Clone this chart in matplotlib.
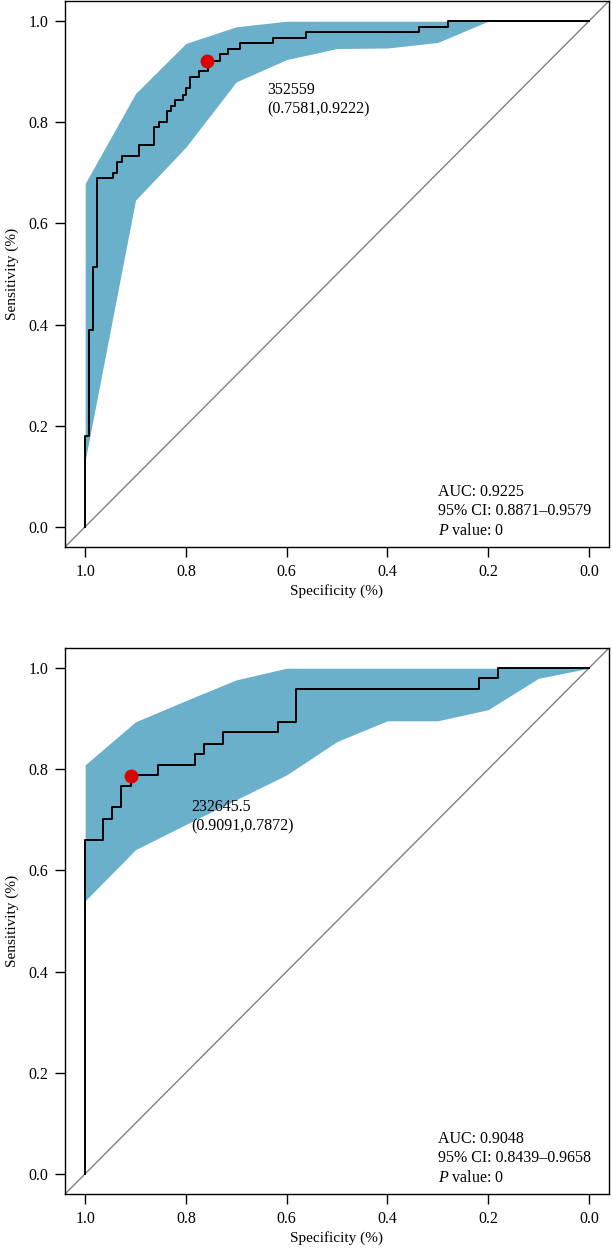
import matplotlib
matplotlib.use('Agg')
import matplotlib.pyplot as plt

plt.rcParams['font.family'] = ['Liberation Serif', 'DejaVu Serif']
plt.rcParams['mathtext.fontset'] = 'custom'
plt.rcParams['mathtext.it'] = 'Liberation Serif:italic'
plt.rcParams['mathtext.rm'] = 'Liberation Serif'

# panel 1 roc curve (specificity, sensitivity)
roc1_spec = [1.0, 1.0, 0.9915, 0.9835, 0.977, 0.944, 0.936, 0.927, 0.894, 0.863, 0.853, 0.838, 0.830,
             0.822, 0.805, 0.799, 0.791, 0.774, 0.757, 0.733, 0.717, 0.693, 0.628, 0.562, 0.337, 0.280, 0.0]
roc1_sens = [0.0, 0.179, 0.39, 0.513, 0.689, 0.700, 0.722, 0.734, 0.756, 0.790, 0.800, 0.823, 0.833,
             0.845, 0.855, 0.867, 0.889, 0.901, 0.922, 0.935, 0.945, 0.956, 0.967, 0.978, 0.989, 1.0, 1.0]

# panel 2 roc curve
roc2_spec = [1.0, 1.0, 0.965, 0.946, 0.929, 0.909, 0.856, 0.782, 0.764, 0.727, 0.617, 0.582, 0.218, 0.180, 0.0]
roc2_sens = [0.0, 0.661, 0.702, 0.725, 0.767, 0.788, 0.809, 0.830, 0.851, 0.873, 0.894, 0.958, 0.980, 1.0, 1.0]

# confidence band of sensitivity
ci_spec = [1.0, 0.9, 0.8, 0.7, 0.6, 0.5, 0.4, 0.3, 0.2, 0.1, 0.0]
ci1_lower = [0.131, 0.646, 0.751, 0.880, 0.924, 0.946, 0.947, 0.958, 1.0, 1.0, 1.0]
ci1_upper = [0.679, 0.857, 0.956, 0.989, 1.0, 1.0, 1.0, 1.0, 1.0, 1.0, 1.0]
ci2_lower = [0.540, 0.641, 0.691, 0.740, 0.789, 0.855, 0.896, 0.896, 0.918, 0.980, 1.0]
ci2_upper = [0.809, 0.894, 0.936, 0.977, 1.0, 1.0, 1.0, 1.0, 1.0, 1.0, 1.0]

# best threshold
thres1 = ('352559', 0.7581, 0.9222)
thres2 = ('232645.5', 0.9091, 0.7872)

auc1 = ['AUC: 0.9225', '95% CI: 0.8871\u20130.9579', r'$\mathit{P}$ value: 0']
auc2 = ['AUC: 0.9048', '95% CI: 0.8439\u20130.9658', r'$\mathit{P}$ value: 0']

ticks = [1.0, 0.8, 0.6, 0.4, 0.2, 0.0]
band_color = '#6AB0CB'


def draw_roc(ax, spec, sens, lower, upper, thres, auc_lines, thres_pos):
    ax.fill_between(ci_spec, lower, upper, color=band_color, lw=0, zorder=1)
    ax.plot([1.04, -0.04], [-0.04, 1.04], color='#808080', lw=1.0, zorder=2)
    ax.step(spec, sens, where='post', color='black', lw=1.4, zorder=3)
    ax.plot(thres[1], thres[2], 'o', color='#DD0000', ms=9, zorder=4)
    ax.text(thres_pos[0], thres_pos[1], '{}\n({},{})'.format(thres[0], thres[1], thres[2]),
            ha='left', va='top', fontsize=11.5, linespacing=1.3)
    for i in range(len(auc_lines)):
        ax.text(0.30, 0.069 - i * 0.0385, auc_lines[i], ha='left', va='center', fontsize=11.5)

    ax.set_xlim(1.04, -0.04)
    ax.set_ylim(-0.04, 1.04)
    ax.set_xticks(ticks)
    ax.set_xticklabels(['{:.1f}'.format(t) for t in ticks])
    ax.set_yticks(ticks)
    ax.set_yticklabels(['{:.1f}'.format(t) for t in ticks])
    ax.tick_params(direction='out', length=7, width=1.0, labelsize=11.5, pad=5)
    for s in ax.spines.values():
        s.set_linewidth(1.0)
    ax.set_xlabel('Specificity (%)', fontsize=11, labelpad=3)
    ax.set_ylabel('Sensitivity (%)', fontsize=11, labelpad=7)


fig = plt.figure(figsize=(6.12, 12.51), dpi=100)
ax1 = fig.add_axes([65 / 612, 1 - 547 / 1251, 544 / 612, 546 / 1251])
ax2 = fig.add_axes([65 / 612, 1 - 1194 / 1251, 544 / 612, 546 / 1251])

draw_roc(ax1, roc1_spec, roc1_sens, ci1_lower, ci1_upper, thres1, auc1, (0.638, 0.880))
draw_roc(ax2, roc2_spec, roc2_sens, ci2_lower, ci2_upper, thres2, auc2, (0.789, 0.742))

plt.savefig('out.png', dpi=100)
plt.close()
